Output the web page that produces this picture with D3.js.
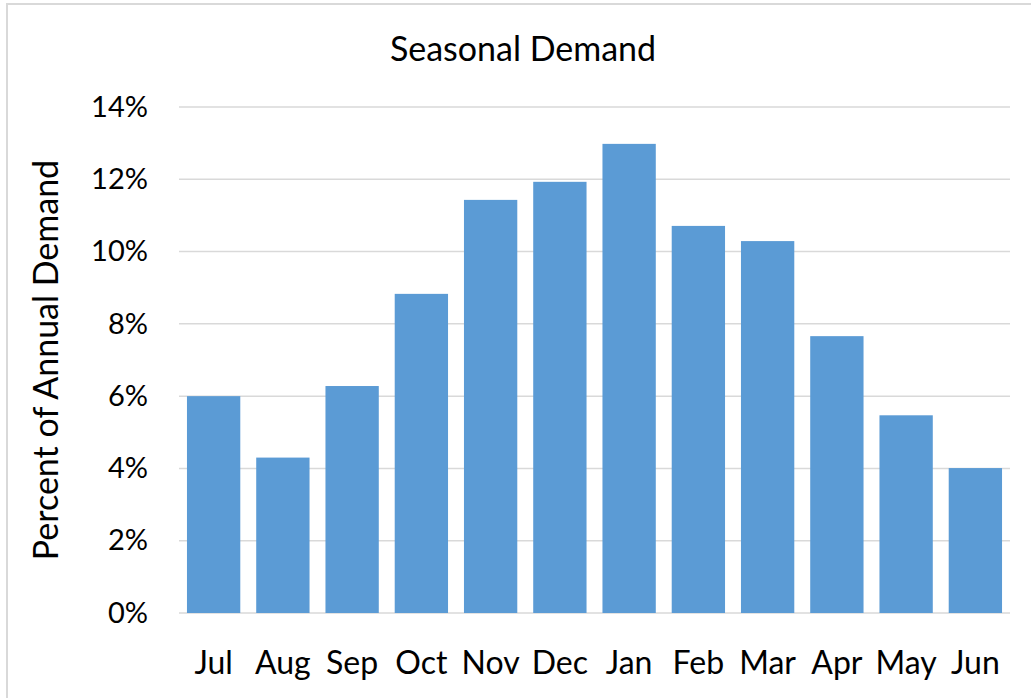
<!DOCTYPE html>
<html>
<head>
<meta charset="utf-8" />
<title>Seasonal Demand</title>
<script src="https://d3js.org/d3.v7.min.js"></script>
<style>
body { margin: 0; background: white; }
svg { font-family: Lato, "Open Sans", sans-serif; }
</style>
</head>
<body>
<div id="chart"></div>
<script>
// chart data
var months = ["Jul", "Aug", "Sep", "Oct", "Nov", "Dec", "Jan", "Feb", "Mar", "Apr", "May", "Jun"];
var demand = [6.0, 4.3, 6.28, 8.83, 11.43, 11.93, 12.98, 10.71, 10.29, 7.66, 5.47, 4.01];
var yTicks = [0, 2, 4, 6, 8, 10, 12, 14];

var width = 1031, height = 698;
var margin = { top: 107, right: 21, bottom: 85, left: 179 };

var svg = d3.select("#chart").append("svg")
    .attr("width", width)
    .attr("height", height);

// light frame around chart
svg.append("rect")
    .attr("x", 7).attr("y", 4)
    .attr("width", width).attr("height", height)
    .attr("fill", "none")
    .attr("stroke", "#d9d9d9")
    .attr("stroke-width", 2);

var x = d3.scaleBand()
    .domain(months)
    .range([margin.left, width - margin.right])
    .paddingInner(0.23)
    .paddingOuter(0.115);

var y = d3.scaleLinear()
    .domain([0, 14])
    .range([height - margin.bottom, margin.top]);

// gridlines
svg.append("g").selectAll("line")
    .data(yTicks)
    .enter().append("line")
    .attr("x1", margin.left)
    .attr("x2", width - margin.right)
    .attr("y1", function(d) { return y(d); })
    .attr("y2", function(d) { return y(d); })
    .attr("stroke", "#d9d9d9")
    .attr("stroke-width", 1.5);

// bars
svg.append("g").selectAll("rect")
    .data(demand)
    .enter().append("rect")
    .attr("x", function(d, i) { return x(months[i]); })
    .attr("y", function(d) { return y(d); })
    .attr("width", x.bandwidth())
    .attr("height", function(d) { return y(0) - y(d); })
    .attr("fill", "#5b9bd5");

// y axis labels
var yAxis = svg.append("g")
    .attr("transform", "translate(" + (margin.left - 28) + ",0)")
    .call(d3.axisLeft(y).tickValues(yTicks).tickSize(0).tickFormat(function(d) { return d + "%"; }));
yAxis.select(".domain").remove();
yAxis.selectAll("text")
    .attr("font-size", 29)
    .attr("font-family", "Lato, 'Open Sans', sans-serif")
    .attr("fill", "#000");

// x axis labels
var xAxis = svg.append("g")
    .attr("transform", "translate(0," + (height - margin.bottom + 35) + ")")
    .call(d3.axisBottom(x).tickSize(0));
xAxis.select(".domain").remove();
xAxis.selectAll("text")
    .attr("font-size", 32)
    .attr("font-family", "Lato, 'Open Sans', sans-serif")
    .attr("fill", "#000");

// title
svg.append("text")
    .attr("x", 523)
    .attr("y", 61)
    .attr("text-anchor", "middle")
    .attr("font-size", 34)
    .attr("fill", "#000")
    .text("Seasonal Demand");

// y axis title
svg.append("text")
    .attr("transform", "translate(58," + y(7) + ") rotate(-90)")
    .attr("text-anchor", "middle")
    .attr("font-size", 34)
    .attr("fill", "#000")
    .text("Percent of Annual Demand");
</script>
</body>
</html>
